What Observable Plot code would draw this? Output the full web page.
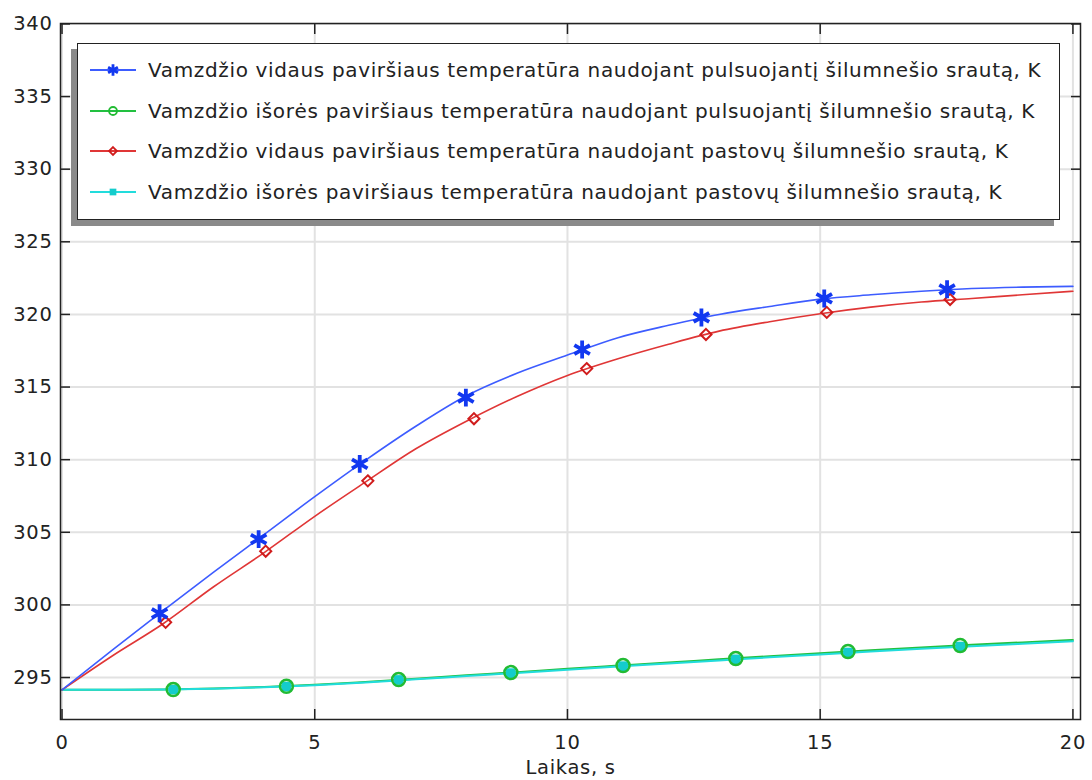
<!DOCTYPE html>
<html><head><meta charset="utf-8">
<script src="https://cdn.jsdelivr.net/npm/d3@7"></script>
<script src="https://cdn.jsdelivr.net/npm/@observablehq/plot@0.6"></script>
<style>
body{margin:0;background:#fff;font-family:"DejaVu Sans",sans-serif;}
#wrap{position:relative;width:1092px;height:780px;overflow:hidden;}
#legend{position:absolute;left:77px;top:43px;width:983px;height:177px;box-sizing:border-box;border:1.5px solid #222;background:#fff;box-shadow:-6px 6px 0 #8a8a8a;padding-top:6px;}
.row{display:flex;align-items:center;height:40.5px;font-size:20px;letter-spacing:0.65px;color:#222;white-space:nowrap;}
.row svg{margin-left:12px;margin-right:12px;flex:none;}
svg text{letter-spacing:0.7px;}
</style></head><body><div id="wrap"><div id="legend"></div></div>
<script>
// time axis (s)
const times = [0,1,2,3,4,5,6,7,8,9,10,11,12,13,14,15,16,17,18,19,20];
// series values (K)
const innerPulse  = [294.15,296.9,299.6,302.25,304.85,307.45,309.95,312.3,314.4,315.95,317.2,318.4,319.25,320.0,320.55,321.05,321.35,321.6,321.78,321.88,321.93];
const outerPulse  = [294.15,294.15,294.18,294.25,294.35,294.5,294.7,294.92,295.15,295.37,295.6,295.82,296.04,296.25,296.47,296.68,296.88,297.07,297.25,297.42,297.58];
const innerConst  = [294.15,296.5,298.7,301.25,303.6,306.1,308.45,310.75,312.65,314.35,315.8,316.95,317.95,318.85,319.5,320.05,320.5,320.85,321.1,321.35,321.6];
const outerConst  = [294.15,294.15,294.17,294.23,294.33,294.47,294.66,294.88,295.1,295.32,295.54,295.76,295.97,296.18,296.39,296.59,296.79,296.98,297.16,297.33,297.5];
// marker positions
const innerPulseMarkT = [1.93,3.89,5.89,7.99,10.29,12.65,15.08,17.51];
const innerPulseMarkV = [299.42,304.53,309.71,314.27,317.58,319.79,321.1,321.73];
const innerConstMarkT = [2.05,4.03,6.05,8.15,10.38,12.74,15.13,17.57];
const innerConstMarkV = [298.8,303.7,308.54,312.82,316.27,318.62,320.14,321.03];
const outerMarkT = [2.2,4.44,6.66,8.88,11.1,13.33,15.55,17.77];
const outerPulseMarkV = [294.18,294.4,294.86,295.34,295.83,296.31,296.79,297.2];
const outerConstMarkV = [294.17,294.38,294.83,295.3,295.78,296.25,296.72,297.13];
// labels
const seriesNames = [
  "Vamzdžio vidaus paviršiaus temperatūra naudojant pulsuojantį šilumnešio srautą, K",
  "Vamzdžio išorės paviršiaus temperatūra naudojant pulsuojantį šilumnešio srautą, K",
  "Vamzdžio vidaus paviršiaus temperatūra naudojant pastovų šilumnešio srautą, K",
  "Vamzdžio išorės paviršiaus temperatūra naudojant pastovų šilumnešio srautą, K"
];
const xTicks = [0,5,10,15,20];
const yTicks = [295,300,305,310,315,320,325,330,335,340];
const xLabel = "Laikas, s";

const lineColors = ["#3d5cff","#22c040","#e03636","#22dcdc"];
const markColors = ["#1238f0","#22bb33","#d01c1c","#14cccc"];

const mk = (t, v) => t.map((d,i)=>({t:d, v:v[i]}));
const L = [innerPulse, outerPulse, innerConst, outerConst].map(v => mk(times, v));

const chart = Plot.plot({
  width: 1092, height: 780,
  marginLeft: 60, marginRight: 12, marginTop: 23, marginBottom: 61,
  style: {fontFamily: "DejaVu Sans", fontSize: "19.5px", color: "#222", background: "#fff"},
  x: {domain: [-0.03, 20.15]},
  y: {domain: [292.11, 340.03]},
  marks: [
    Plot.gridX(xTicks, {stroke: "#e2e2e2", strokeOpacity: 1, strokeWidth: 2}),
    Plot.gridY(yTicks, {stroke: "#e2e2e2", strokeOpacity: 1, strokeWidth: 2}),
    Plot.line(L[1], {x:"t", y:"v", stroke: lineColors[1], strokeWidth: 2, curve: "monotone-x"}),
    Plot.line(L[3], {x:"t", y:"v", stroke: lineColors[3], strokeWidth: 2, curve: "monotone-x"}),
    Plot.line(L[2], {x:"t", y:"v", stroke: lineColors[2], strokeWidth: 1.6, curve: "monotone-x"}),
    Plot.line(L[0], {x:"t", y:"v", stroke: lineColors[0], strokeWidth: 1.6, curve: "monotone-x"}),
    Plot.dot(mk(outerMarkT, outerConstMarkV), {x:"t", y:"v", symbol: "square", r: 5.5, fill: markColors[3], stroke: "none"}),
    Plot.dot(mk(outerMarkT, outerPulseMarkV), {x:"t", y:"v", symbol: "circle", r: 6.5, fill: "none", stroke: markColors[1], strokeWidth: 2.5}),
    Plot.dot(mk(innerConstMarkT, innerConstMarkV), {x:"t", y:"v", symbol: "diamond2", r: 5, fill: "none", stroke: markColors[2], strokeWidth: 2}),
    Plot.dot(mk(innerPulseMarkT, innerPulseMarkV), {x:"t", y:"v", symbol: "asterisk", r: 8.5, stroke: markColors[0], strokeWidth: 3.8}),
    Plot.frame({stroke: "#222", strokeWidth: 1.5}),
    Plot.axisX(xTicks, {anchor: "bottom", tickSize: 10, dy: -10, tickFormat: () => "", label: null, stroke: "#222", strokeWidth: 1.5}),
    Plot.axisX(xTicks, {anchor: "top", tickSize: 10, dy: 10, tickFormat: () => "", label: null, stroke: "#222", strokeWidth: 1.5}),
    Plot.axisY(yTicks, {anchor: "left", tickSize: 10, dx: 10, tickFormat: () => "", label: null, stroke: "#222", strokeWidth: 1.5}),
    Plot.axisY(yTicks, {anchor: "right", tickSize: 10, dx: -10, tickFormat: () => "", label: null, stroke: "#222", strokeWidth: 1.5}),
    Plot.axisX(xTicks, {anchor: "bottom", tickSize: 0, tickPadding: 16, fill: "#222", label: xLabel, labelAnchor: "center", labelArrow: "none", labelOffset: 54}),
    Plot.axisY(yTicks, {anchor: "left", tickSize: 0, tickPadding: 8, fill: "#222", label: null})
  ]
});
document.getElementById("wrap").prepend(chart);

// legend
const symbols = [d3.symbolAsterisk, d3.symbolCircle, d3.symbolDiamond2, d3.symbolSquare];
const sizes = [90, 50, 40, 45];
const fills = ["none","none","none", markColors[3]];
const legend = d3.select("#legend");
seriesNames.forEach((name, i) => {
  const row = legend.append("div").attr("class","row");
  const s = row.append("svg").attr("width", 46).attr("height", 20);
  s.append("line").attr("x1",0).attr("x2",46).attr("y1",10).attr("y2",10).attr("stroke", lineColors[i]).attr("stroke-width",2);
  s.append("path").attr("d", d3.symbol(symbols[i], sizes[i])()).attr("transform","translate(23,10)")
    .attr("fill", fills[i]).attr("stroke", i===3 ? "none" : markColors[i]).attr("stroke-width", i===0 ? 2.8 : 1.8);
  row.append("span").text(name);
});
</script></body></html>
